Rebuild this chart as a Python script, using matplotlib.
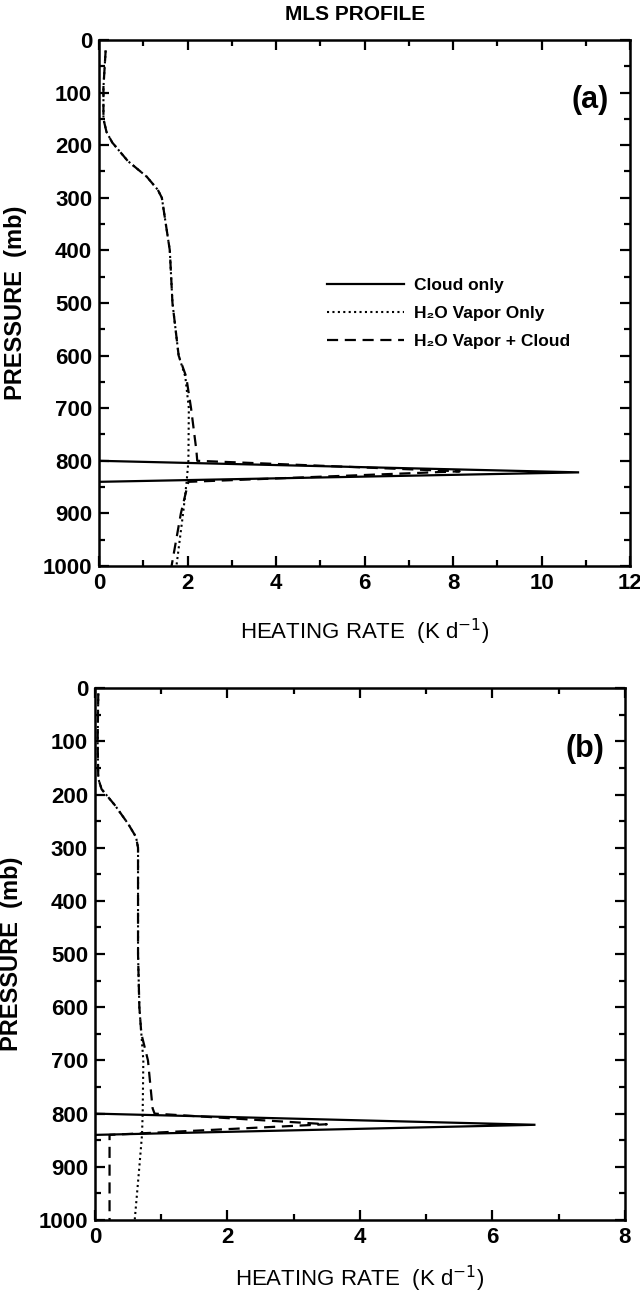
import numpy as np
import matplotlib
matplotlib.use('Agg')
import matplotlib.pyplot as plt
from matplotlib.ticker import MultipleLocator

plt.rcParams['font.family'] = ['Liberation Sans', 'DejaVu Sans']

# panel (a): profile shared by both water-vapour curves above ~620 mb
a_top_p = [20, 90, 150, 175, 195, 230, 260, 285, 300, 400, 500, 600]
a_top_x = [0.15, 0.1, 0.1, 0.17, 0.3, 0.65, 1.08, 1.33, 1.42, 1.6, 1.66, 1.8]
a_vap_p = [640, 700, 800, 840, 900, 1000]
a_vap_x = [1.95, 2.03, 2.02, 1.98, 1.9, 1.75]
a_both_p = [640, 700, 780, 800, 820, 840, 900, 1000]
a_both_x = [1.97, 2.08, 2.2, 2.22, 8.15, 2.02, 1.85, 1.64]
a_cld_p = [800, 822, 840]
a_cld_x = [0.0, 10.85, 0.0]

# panel (b)
b_top_p = [10, 100, 170, 190, 220, 255, 280, 300, 400, 500, 600, 650]
b_top_x = [0.05, 0.04, 0.05, 0.1, 0.3, 0.5, 0.62, 0.65, 0.65, 0.65, 0.67, 0.7]
b_vap_p = [700, 800, 840, 900, 1000]
b_vap_x = [0.73, 0.72, 0.71, 0.67, 0.6]
b_both_p = [700, 790, 800, 820, 840, 1000]
b_both_x = [0.8, 0.87, 0.9, 3.5, 0.22, 0.22]
b_cld_p = [800, 821, 840]
b_cld_x = [0.0, 6.65, 0.0]

labels = ['Cloud only', 'H₂O Vapor Only', 'H₂O Vapor + Cloud']

fig = plt.figure(figsize=(6.4, 12.94), dpi=100)
ax_a = fig.add_axes([0.1547, 0.5626, 0.8297, 0.4065])
ax_b = fig.add_axes([0.1484, 0.0572, 0.828, 0.411])

panels = [
    (ax_a, a_top_p, a_top_x, a_vap_p, a_vap_x, a_both_p, a_both_x, a_cld_p, a_cld_x, 12, '(a)', -0.125),
    (ax_b, b_top_p, b_top_x, b_vap_p, b_vap_x, b_both_p, b_both_x, b_cld_p, b_cld_x, 8, '(b)', -0.11),
]

for ax, tp, tx, vp, vx, bp, bx, cp, cx, xmax, tag, xl_y in panels:
    l_cld, = ax.plot(cx, cp, color='black', lw=1.6, solid_joinstyle='miter')
    l_vap, = ax.plot(tx + vx, tp + vp, color='black', lw=1.5, linestyle=(0, (1, 1.6)))
    l_both, = ax.plot(tx + bx, tp + bp, color='black', lw=1.6, linestyle=(0, (5, 3)))
    ax.set_xlim(0, xmax)
    ax.set_ylim(1000, 0)
    ax.xaxis.set_major_locator(MultipleLocator(2))
    ax.xaxis.set_minor_locator(MultipleLocator(1))
    ax.yaxis.set_major_locator(MultipleLocator(100))
    ax.yaxis.set_minor_locator(MultipleLocator(50))
    ax.tick_params(which='both', direction='in', top=True, right=True, width=1.6)
    ax.tick_params(which='major', length=7, labelsize=16, pad=5)
    ax.tick_params(which='minor', length=4)
    for s in ax.spines.values():
        s.set_linewidth(1.8)
    ax.set_ylabel('PRESSURE  (mb)', fontsize=17, fontweight='bold')
    ax.yaxis.set_label_coords(-0.135, 0.5)
    ax.set_xlabel('HEATING RATE  (K d$^{-1}$)', fontsize=16, va='center')
    ax.xaxis.set_label_coords(0.5, xl_y)
    ax.text(0.925, 0.885, tag, transform=ax.transAxes, fontsize=22,
            fontweight='bold', ha='center', va='center')
    for t in ax.get_xticklabels() + ax.get_yticklabels():
        t.set_fontweight('bold')
    if tag == '(a)':
        ax.legend([l_cld, l_vap, l_both], labels, loc='upper left',
                  bbox_to_anchor=(0.43, 0.548), frameon=False,
                  handlelength=4.4, handletextpad=0.6, labelspacing=0.75,
                  borderpad=0, borderaxespad=0, prop={'weight': 'bold', 'size': 12.5})

fig.text(0.555, 0.989, 'MLS PROFILE', ha='center', va='center', fontsize=15,
         fontweight='bold')

fig.savefig('out.png', dpi=100, facecolor='white')
